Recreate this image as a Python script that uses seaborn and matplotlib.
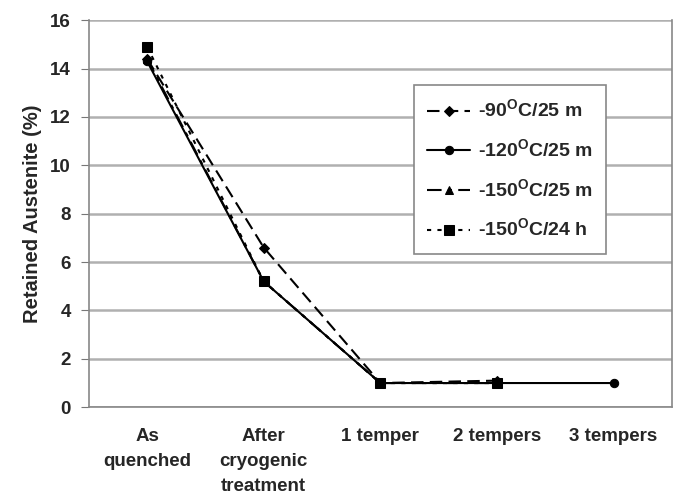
import numpy as np
import pandas as pd
import matplotlib
matplotlib.use("Agg")
import matplotlib.pyplot as plt
import seaborn as sns

# Data
stages = ["As\nquenched", "After\ncryogenic\ntreatment", "1 temper", "2 tempers", "3 tempers"]
series_names = [r"-90$^{\mathregular{O}}$C/25 m",
                r"-120$^{\mathregular{O}}$C/25 m",
                r"-150$^{\mathregular{O}}$C/25 m",
                r"-150$^{\mathregular{O}}$C/24 h"]
ra_90_25m = [14.4, 6.6, 1.0, 1.1, np.nan]
ra_120_25m = [14.3, 5.2, 1.0, 1.0, 1.0]
ra_150_25m = [14.4, 5.2, 1.0, 1.0, np.nan]
ra_150_24h = [14.9, 5.2, 1.0, 1.0, np.nan]
y_ticks = [0, 2, 4, 6, 8, 10, 12, 14, 16]

sns.set_style("white")
plt.rcParams["font.family"] = ["Liberation Sans", "DejaVu Sans"]
plt.rcParams["mathtext.fontset"] = "custom"
plt.rcParams["mathtext.rm"] = "Liberation Sans:bold"

styles = [
    dict(marker="D", ls=(0, (6, 3)), ms=5),
    dict(marker="o", ls="-", ms=6),
    dict(marker="^", ls=(0, (7, 3, 2, 3)), ms=6),
    dict(marker="s", ls=(0, (2, 3)), ms=7),
]
all_values = [ra_90_25m, ra_120_25m, ra_150_25m, ra_150_24h]

fig, ax = plt.subplots(figsize=(6.78, 5.04), dpi=100)
fig.subplots_adjust(left=0.131, right=0.991, bottom=0.192, top=0.960)

ax.grid(True, axis="y", color="#b0b0b0", lw=1.8)
ax.set_axisbelow(True)

for name, vals, st in zip(series_names, all_values, styles):
    df = pd.DataFrame({"stage": stages, "ra": vals})
    sns.lineplot(data=df, x="stage", y="ra", ax=ax, color="black", lw=1.5,
                 linestyle=st["ls"], marker=st["marker"], markersize=st["ms"],
                 markeredgecolor="black", label=name, sort=False)

ax.set_xlim(-0.5, len(stages) - 0.5)
ax.set_ylim(0, 16)
ax.set_yticks(y_ticks)
ax.set_xticks(range(len(stages)))
ax.set_xticklabels(stages, fontsize=13.5, fontweight="bold", linespacing=1.6)
ax.set_xticks(np.arange(-0.5, len(stages)), minor=True)
ax.tick_params(axis="x", which="major", length=0, pad=15)
ax.tick_params(axis="x", which="minor", length=5, color="#777777", direction="out")
ax.tick_params(axis="y", length=6, color="#777777", direction="out", labelsize=13.5, pad=7)
ax.tick_params(axis="y", which="both", left=True)
for lbl in ax.get_yticklabels():
    lbl.set_fontweight("bold")

for side in ["left", "bottom", "right"]:
    ax.spines[side].set_color("#888888")
    ax.spines[side].set_linewidth(1.2)
ax.spines["top"].set_visible(False)

ax.set_xlabel("")
ax.set_ylabel("Retained Austenite (%)", fontsize=14.5, fontweight="bold", labelpad=6)

leg = ax.legend(loc="upper left", bbox_to_anchor=(0.557, 0.832), borderaxespad=0,
                frameon=True, fancybox=False, framealpha=1, edgecolor="#888888",
                prop={"weight": "bold", "size": 14}, handlelength=2.2,
                labelspacing=0.88, borderpad=0.7, handletextpad=0.4)
leg.get_frame().set_linewidth(1.2)

fig.savefig("out.png", dpi=100)
